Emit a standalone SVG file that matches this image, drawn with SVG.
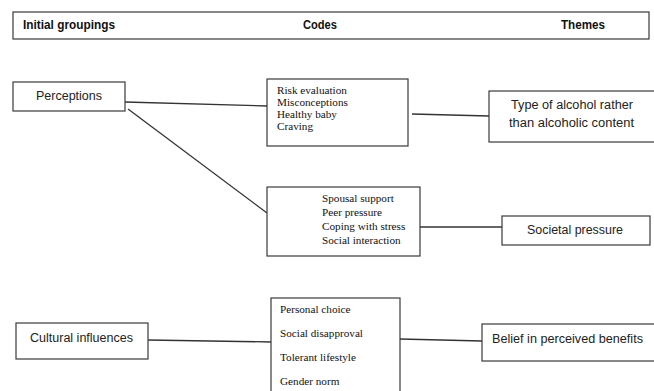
<svg xmlns="http://www.w3.org/2000/svg" width="654" height="391" viewBox="0 0 654 391">
<style>
.box{fill:#fff;stroke:#3a3a3a;stroke-width:1.2}
.hd{font-family:"Liberation Sans",Arial,sans-serif;font-weight:bold;font-size:12px;fill:#111}
.cal{font-family:"Liberation Sans",Arial,sans-serif;font-size:12.5px;fill:#222}
.tm{font-family:"Liberation Serif","Times New Roman",serif;font-size:11.2px;fill:#111}
.cn{stroke:#333;stroke-width:1.3;fill:none}
</style>
<rect width="654" height="391" fill="#fff"/>
<g id="header">
<rect class="box" x="13" y="12" width="636" height="27"/>
<text class="hd" x="23" y="29" textLength="92" lengthAdjust="spacingAndGlyphs">Initial groupings</text>
<text class="hd" x="303" y="29" textLength="34" lengthAdjust="spacingAndGlyphs">Codes</text>
<text class="hd" x="561" y="29" textLength="44" lengthAdjust="spacingAndGlyphs">Themes</text>
</g>
<g id="connectors">
<line class="cn" x1="125" y1="102" x2="267" y2="106"/>
<line class="cn" x1="128" y1="109" x2="267" y2="213"/>
<line class="cn" x1="412" y1="114" x2="489" y2="116"/>
<line class="cn" x1="420" y1="227" x2="502" y2="227"/>
<line class="cn" x1="148" y1="340" x2="271" y2="342"/>
<line class="cn" x1="400" y1="339" x2="482" y2="341"/>
</g>
<g id="perceptions">
<rect class="box" x="13" y="82" width="112" height="29"/>
<text class="cal" x="36" y="100" textLength="66" lengthAdjust="spacingAndGlyphs">Perceptions</text>
</g>
<g id="codes-risk">
<rect class="box" x="267" y="79" width="141" height="67"/>
<text class="tm" x="277" y="94">Risk evaluation</text>
<text class="tm" x="277" y="106">Misconceptions</text>
<text class="tm" x="277" y="118">Healthy baby</text>
<text class="tm" x="277" y="130">Craving</text>
</g>
<g id="codes-social">
<rect class="box" x="267" y="187" width="153" height="69"/>
<text class="tm" x="322" y="202">Spousal support</text>
<text class="tm" x="322" y="216">Peer pressure</text>
<text class="tm" x="322" y="230">Coping with stress</text>
<text class="tm" x="322" y="244">Social interaction</text>
</g>
<g id="theme-type">
<rect class="box" x="489" y="91" width="175" height="51"/>
<text class="cal" x="511" y="109" textLength="122" lengthAdjust="spacingAndGlyphs">Type of alcohol rather</text>
<text class="cal" x="509" y="127" textLength="125" lengthAdjust="spacingAndGlyphs">than alcoholic content</text>
</g>
<g id="theme-societal">
<rect class="box" x="502" y="216" width="148" height="29"/>
<text class="cal" x="527" y="234" textLength="96" lengthAdjust="spacingAndGlyphs">Societal pressure</text>
</g>
<g id="cultural">
<rect class="box" x="16" y="323" width="132" height="36"/>
<text class="cal" x="30" y="342" textLength="103" lengthAdjust="spacingAndGlyphs">Cultural influences</text>
</g>
<g id="codes-cultural">
<rect class="box" x="271" y="298" width="129" height="100"/>
<text class="tm" x="280" y="313">Personal choice</text>
<text class="tm" x="280" y="337">Social disapproval</text>
<text class="tm" x="280" y="361">Tolerant lifestyle</text>
<text class="tm" x="280" y="385">Gender norm</text>
</g>
<g id="theme-belief">
<rect class="box" x="482" y="324" width="182" height="37"/>
<text class="cal" x="492" y="343" textLength="151" lengthAdjust="spacingAndGlyphs">Belief in perceived benefits</text>
</g>
</svg>
